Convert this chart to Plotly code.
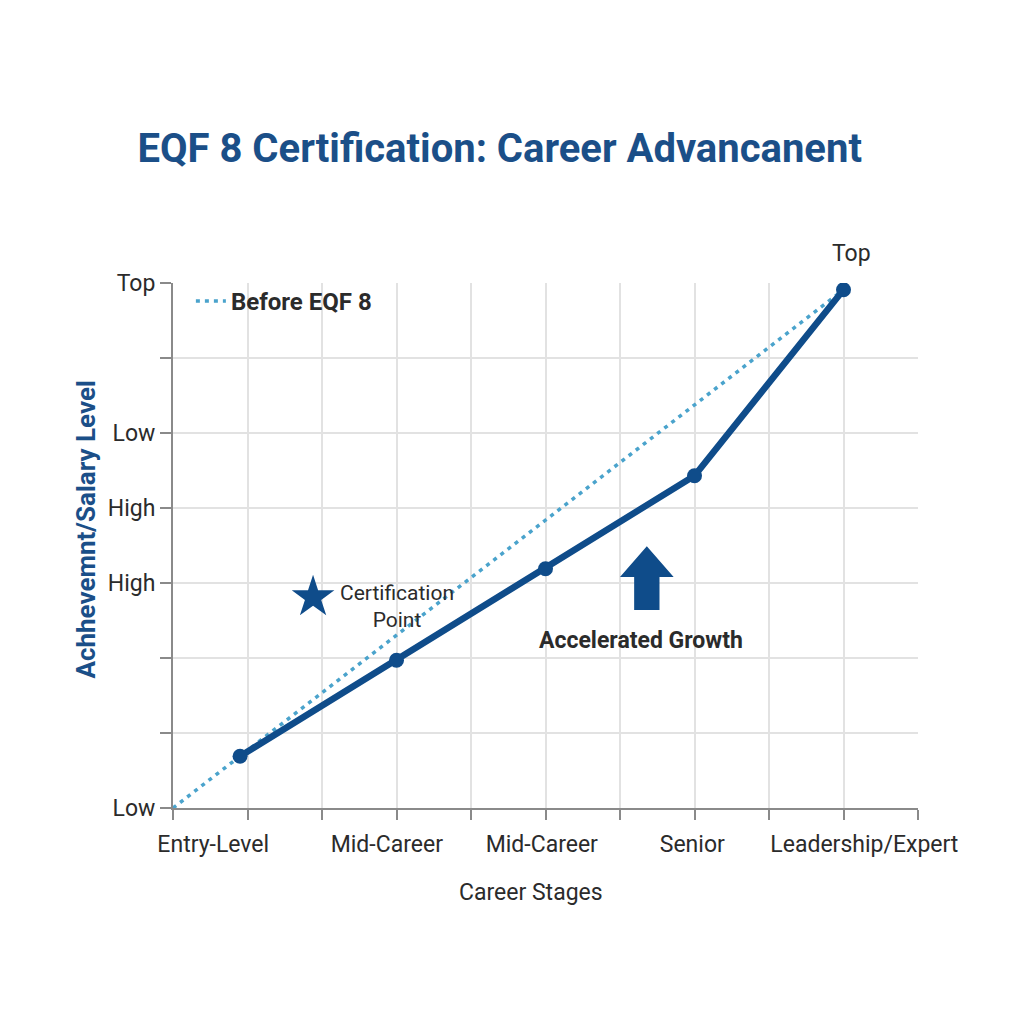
import plotly.graph_objects as go

# Career stage labels and where they sit along the x axis
stage_labels = ["Entry-Level", "Mid-Career", "Mid-Career", "Senior", "Leadership/Expert"]
stage_label_pos = [0.54, 2.87, 4.95, 6.97, 9.28]

# Career path with EQF 8 certification
path_x = [0.9, 3, 5, 7, 9]
path_y = [0.69, 1.97, 3.19, 4.43, 6.91]

# Trajectory before EQF 8
before_x = [0, 0.9, 3, 5, 7, 9]
before_y = [0, 0.69, 2.30, 3.84, 5.37, 6.91]

# Level axis tick labels
level_vals = [0, 1, 2, 3, 4, 5, 6, 7]
level_text = ["Low", "", "", "High", "High", "Low", "", "Top"]

# Certification point marker
cert_x = [1.88]
cert_y = [2.81]

DARK = "#0f4c8a"
LIGHT = "#4aa3cc"
TEXT = "#2b2b2b"
FONT = "Roboto"

fig = go.Figure()

fig.add_trace(go.Scatter(
    x=before_x, y=before_y, mode="lines", name="Before EQF 8",
    line=dict(color=LIGHT, width=3.5, dash="4px,5px"),
))
fig.add_trace(go.Scatter(
    x=path_x, y=path_y, mode="lines+markers", showlegend=False,
    line=dict(color=DARK, width=6.5),
    marker=dict(color=DARK, size=15),
))
fig.add_trace(go.Scatter(
    x=cert_x, y=cert_y, mode="markers", showlegend=False,
    marker=dict(symbol="star", color=DARK, size=32),
))

# Block arrow marking accelerated growth
ax_c, ax_bottom, ax_top, ax_neck = 6.36, 2.64, 3.49, 3.08
head_half, shaft_half = 0.36, 0.17
arrow_x = [ax_c - shaft_half, ax_c - shaft_half, ax_c - head_half, ax_c,
           ax_c + head_half, ax_c + shaft_half, ax_c + shaft_half, ax_c - shaft_half]
arrow_y = [ax_bottom, ax_neck, ax_neck, ax_top, ax_neck, ax_neck, ax_bottom, ax_bottom]
fig.add_trace(go.Scatter(
    x=arrow_x, y=arrow_y, mode="lines", fill="toself", fillcolor=DARK,
    line=dict(color=DARK, width=0), showlegend=False, hoverinfo="skip",
))

fig.add_annotation(x=3.0, y=2.69, text="Certification<br>Point", showarrow=False,
                   font=dict(family=FONT, size=21, color=TEXT))
fig.add_annotation(x=6.28, y=2.24, text="<b>Accelerated Growth</b>", showarrow=False,
                   font=dict(family=FONT, size=23, color=TEXT))
fig.add_annotation(x=9.11, xref="x", y=1.057, yref="paper", yanchor="middle",
                   text="Top", showarrow=False,
                   font=dict(family=FONT, size=23, color=TEXT))
# Axis titles
fig.add_annotation(x=0.48, xref="paper", y=-0.161, yref="paper", text="Career Stages",
                   showarrow=False, yanchor="middle",
                   font=dict(family=FONT, size=23, color=TEXT))
fig.add_annotation(x=-0.117, xref="paper", y=0.53, yref="paper",
                   text="<b>Achhevemnt/Salary Level</b>", textangle=-90,
                   showarrow=False, xanchor="center", yanchor="middle",
                   font=dict(family=FONT, size=26, color="#1b4f88"))

fig.update_layout(
    width=1024, height=1024,
    margin=dict(l=173, r=106, t=283, b=216),
    paper_bgcolor="white", plot_bgcolor="white",
    font=dict(family=FONT, color=TEXT),
    title=dict(text="<b>EQF 8 Certification: Career Advancanent</b>",
               x=0.488, xanchor="center", y=1 - 148 / 1024, yanchor="middle",
               font=dict(family=FONT, size=40, color="#1b4f88")),
    showlegend=True,
    legend=dict(x=0.024, y=1.008, xanchor="left", yanchor="top",
                bgcolor="rgba(0,0,0,0)", itemwidth=30,
                font=dict(family=FONT, size=24, color=TEXT, weight="bold")),
    xaxis=dict(
        range=[0, 10], tickvals=stage_label_pos, ticktext=stage_labels,
        ticks="", showgrid=False, zeroline=False, ticklabelstandoff=14,
        showline=True, linecolor="#8a8a8a", linewidth=2,
        tickfont=dict(family=FONT, size=23, color=TEXT),
        minor=dict(dtick=1, tick0=0, ticks="outside", ticklen=10,
                   tickcolor="#8a8a8a", tickwidth=2,
                   showgrid=True, gridcolor="#e2e2e2", gridwidth=1.5),
        fixedrange=True,
    ),
    yaxis=dict(
        range=[0, 7], tickvals=level_vals, ticktext=level_text,
        ticks="outside", ticklen=11, tickcolor="#8a8a8a", tickwidth=2,
        showgrid=True, gridcolor="#e2e2e2", gridwidth=1.5, zeroline=False,
        showline=True, linecolor="#8a8a8a", linewidth=2,
        tickfont=dict(family=FONT, size=23, color=TEXT),
        fixedrange=True,
    ),
)

fig.write_html("out.html")
